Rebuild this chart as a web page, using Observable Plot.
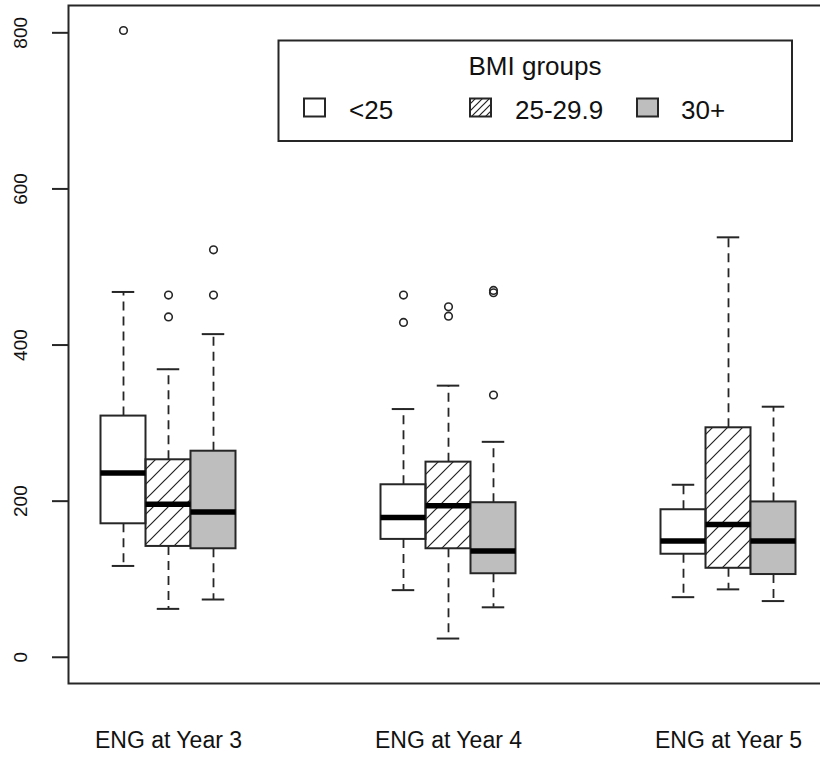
<!DOCTYPE html>
<html>
<head>
<meta charset="utf-8">
<script src="https://cdn.jsdelivr.net/npm/d3@7"></script>
<script src="https://cdn.jsdelivr.net/npm/@observablehq/plot@0.6"></script>
<style>
  html, body { margin: 0; padding: 0; background: white; overflow: hidden; }
  #chart svg { overflow: hidden; display: block; }
</style>
</head>
<body>
<div id="chart"></div>
<script>
// ---- Data ----
const groups = ["ENG at Year 3", "ENG at Year 4", "ENG at Year 5"];
const bmiGroups = ["<25", "25-29.9", "30+"];
// order: Year3 (<25, 25-29.9, 30+), Year4 (...), Year5 (...)
const lowerWhisker = [117, 62, 74, 86, 24, 64, 77, 87, 72];
const lowerHinge   = [171, 142, 139, 151, 139, 107, 132, 114, 106];
const medians      = [236, 196, 186, 179, 194, 136, 149, 170, 149];
const upperHinge   = [309, 253, 264, 221, 250, 198, 189, 294, 199];
const upperWhisker = [468, 369, 414, 318, 348, 276, 221, 538, 321];
const outliers     = [[803], [464, 436], [464, 522], [464, 429], [449, 437], [470, 467, 336], [], [], []];
const yTicks = [0, 200, 400, 600, 800];
const legendTitle = "BMI groups";

// ---- Layout constants ----
const boxWidth = 45 / 280;       // box width in group units
const hw = boxWidth / 2;
const ink = "#262626";

const boxes = lowerWhisker.map((lo, i) => {
  const gi = Math.floor(i / 3), si = i % 3;
  return {
    group: groups[gi], series: bmiGroups[si],
    pos: gi + (si - 1) * boxWidth,
    lo, q1: lowerHinge[i], med: medians[i], q3: upperHinge[i], hi: upperWhisker[i]
  };
});
const outlierRows = boxes.flatMap((b, i) => outliers[i].map(v => ({pos: b.pos, value: v, series: b.series})));

const chart = Plot.plot({
  width: 820,
  height: 760,
  marginLeft: 68,
  marginRight: 0,
  marginTop: 5,
  marginBottom: 77,
  style: {fontFamily: "'Liberation Sans', Arial, sans-serif", background: "white", color: "#111"},
  x: {domain: [-100 / 280, 752 / 280 - 100 / 280], axis: null},
  y: {domain: [-33.6, 835], axis: null},
  color: {type: "ordinal", domain: bmiGroups, range: ["white", "url(#hatch)", "#bebebe"]},
  marks: [
    // whiskers
    Plot.ruleX(boxes, {x: "pos", y1: "q3", y2: "hi", stroke: ink, strokeWidth: 1.8, strokeDasharray: "9,6"}),
    Plot.ruleX(boxes, {x: "pos", y1: "q1", y2: "lo", stroke: ink, strokeWidth: 1.8, strokeDasharray: "9,6"}),
    // whisker caps
    Plot.ruleY(boxes, {y: "hi", x1: d => d.pos - hw / 2, x2: d => d.pos + hw / 2, stroke: ink, strokeWidth: 2}),
    Plot.ruleY(boxes, {y: "lo", x1: d => d.pos - hw / 2, x2: d => d.pos + hw / 2, stroke: ink, strokeWidth: 2}),
    // boxes
    Plot.rect(boxes, {x1: d => d.pos - hw, x2: d => d.pos + hw, y1: "q1", y2: "q3", fill: "series", stroke: ink, strokeWidth: 2}),
    // medians
    Plot.ruleY(boxes, {y: "med", x1: d => d.pos - hw, x2: d => d.pos + hw, stroke: "black", strokeWidth: 5.5}),
    // outliers
    Plot.dot(outlierRows, {x: "pos", y: "value", r: 3.8, stroke: ink, strokeWidth: 1.6, fill: "none"}),
    // y axis ticks and labels
    Plot.axisY({ticks: yTicks, tickSize: 16, tickFormat: () => "", stroke: ink, strokeWidth: 2, label: null}),
    Plot.text(yTicks, {y: d => d, text: d => String(d), frameAnchor: "left", dx: -47.5, rotate: -90,
      textAnchor: "middle", lineAnchor: "middle", fontSize: 19, fill: "#111"}),
    // x labels
    Plot.text(groups, {x: (d, i) => i, text: d => d, frameAnchor: "bottom", dy: 57,
      textAnchor: "middle", lineAnchor: "middle", fontSize: 23, fill: "#111"}),
    // plot frame
    Plot.frame({stroke: ink, strokeWidth: 2, insetRight: -4})
  ]
});

// ---- patterns & legend ----
const NS = "http://www.w3.org/2000/svg";
function el(tag, attrs, parent) {
  const e = document.createElementNS(NS, tag);
  for (const k in attrs) e.setAttribute(k, attrs[k]);
  if (parent) parent.appendChild(e);
  return e;
}
const defs = el("defs", {});
function hatch(id, s) {
  const p = el("pattern", {id, patternUnits: "userSpaceOnUse", width: s, height: s}, defs);
  el("path", {d: `M${-s / 4},${s / 4} L${s / 4},${-s / 4} M0,${s} L${s},0 M${s * 0.75},${s * 1.25} L${s * 1.25},${s * 0.75}`,
    stroke: "#222", "stroke-width": 1.2, fill: "none"}, p);
}
hatch("hatch", 15);
hatch("hatchSmall", 7);
chart.insertBefore(defs, chart.firstChild);

const lg = el("g", {"font-family": "'Liberation Sans', Arial, sans-serif", "font-size": 26, fill: "#111", "text-anchor": "start"}, chart);
el("rect", {x: 278.5, y: 40.5, width: 513.5, height: 100.5, fill: "white", stroke: ink, "stroke-width": 2}, lg);
const t = el("text", {x: 535, y: 75, "text-anchor": "middle"}, lg);
t.textContent = legendTitle;
const swX = [304, 470, 637];
const txX = [349, 515, 681];
const swFill = ["white", "url(#hatchSmall)", "#bebebe"];
bmiGroups.forEach((g, i) => {
  el("rect", {x: swX[i], y: 98.5, width: 21, height: 18, fill: swFill[i], stroke: ink, "stroke-width": 2}, lg);
  const tx = el("text", {x: txX[i], y: 119, "text-anchor": "start"}, lg);
  tx.textContent = g;
});

document.getElementById("chart").appendChild(chart);
</script>
</body>
</html>
